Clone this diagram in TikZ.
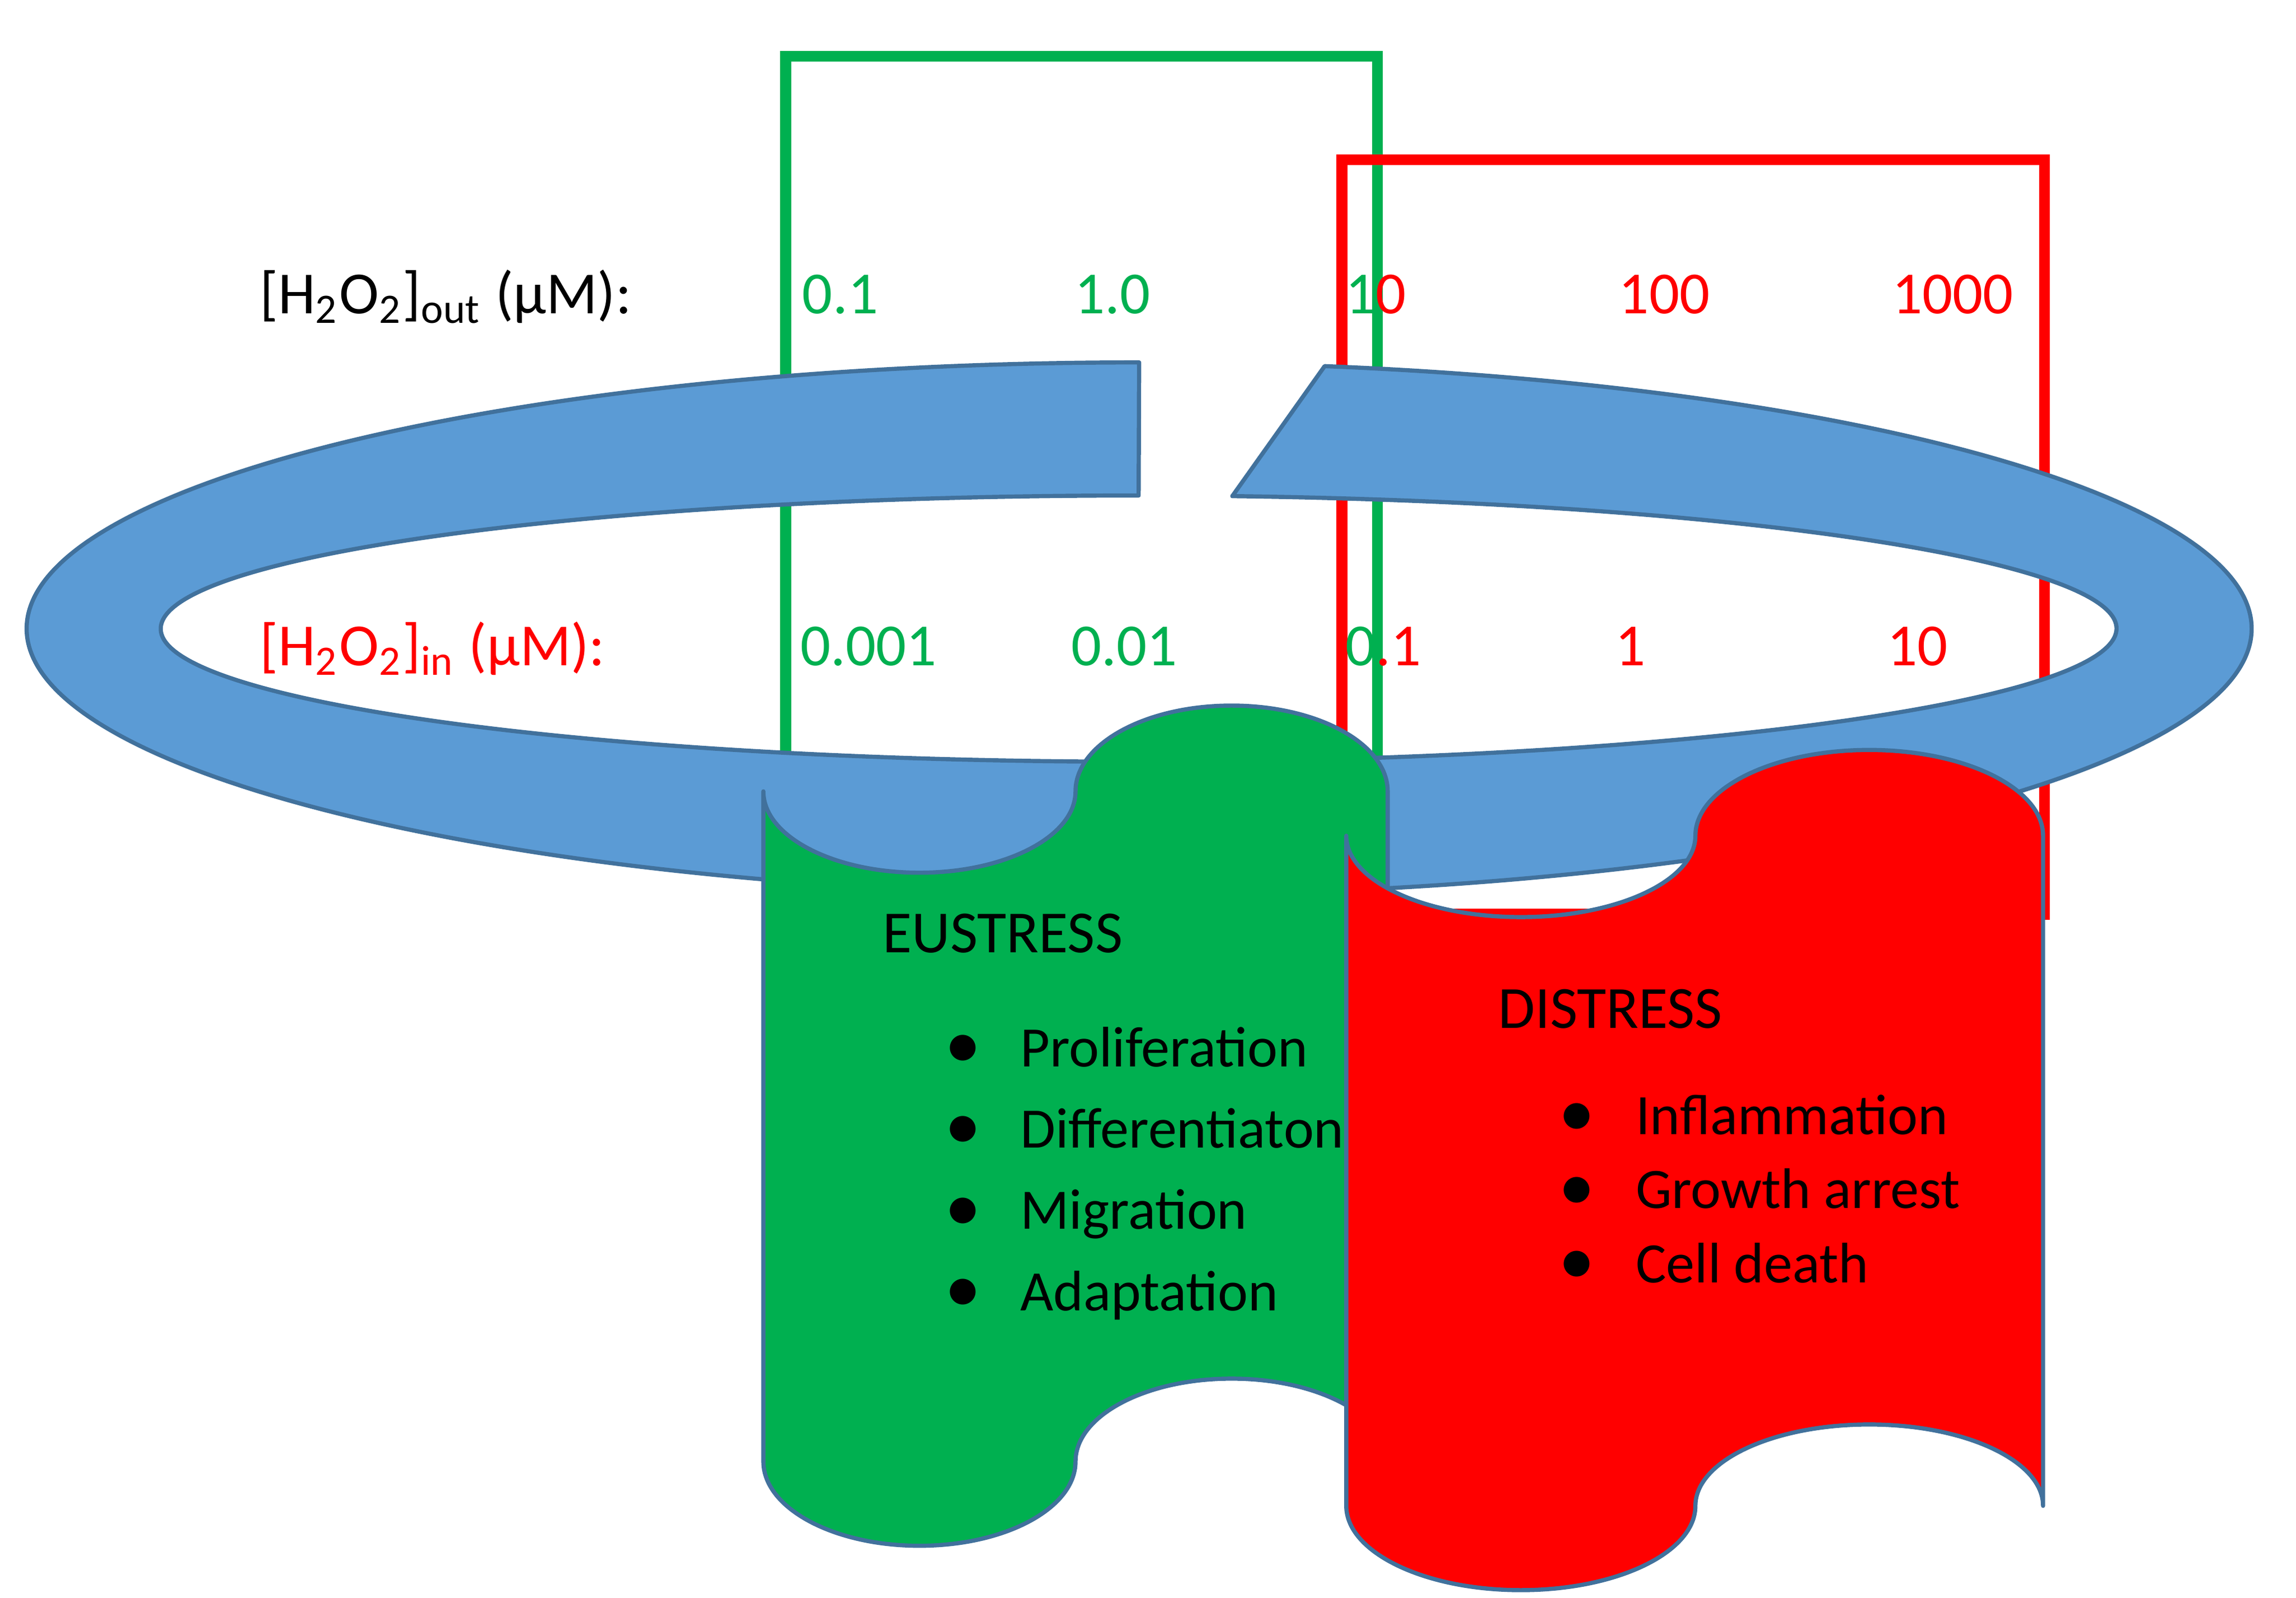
\documentclass[tikz,border=0pt]{standalone}
\usepackage{fontspec}
\setmainfont{Carlito}
\definecolor{gr}{HTML}{00B050}
\definecolor{rd}{HTML}{FF0000}
\definecolor{bl}{HTML}{5B9BD5}
\definecolor{ol}{HTML}{41719C}
\begin{document}
\begin{tikzpicture}[x=0.01cm,y=0.01cm,
  lbl/.style={anchor=base west,inner sep=0,font=\fontsize{11.5}{13}\selectfont},
  num/.style={anchor=base,inner sep=0,font=\fontsize{11.5}{13}\selectfont},
  item/.style={anchor=base west,inner sep=0,font=\fontsize{11}{13}\selectfont},
  bul/.style={anchor=center,inner sep=0,font=\fontsize{14}{14}\selectfont},
  shp/.style={draw=ol,line width=0.8pt,line join=round}]
\useasboundingbox (0,0) rectangle (1552,-1080);
% rectangles
\draw[gr,line width=2.1pt] (531,-600) -- (531,-38) -- (931,-38) -- (931,-600);
\draw[rd,line width=2.1pt] (907,-618) rectangle (1382,-108);
% ring
\path[shp,fill=bl] (770,-245) arc[start angle=90,end angle=440.4,x radius=752,y radius=180]
  -- (833,-335.4) arc[start angle=84.5,end angle=-270,x radius=661,y radius=90] -- cycle;
% texts
\node[lbl] (out) at (175,-212) {[H\textsubscript{2}O\textsubscript{2}]\textsubscript{out} (µM):};
\node[num,text=gr] (o1) at (568,-212) {0.1};
\node[num,text=gr] (o2) at (752,-212) {1.0};
\node[num] (o3) at (930,-212) {\textcolor{gr}{1}\textcolor{rd}{0}};
\node[num,text=rd] (o4) at (1125,-212) {100};
\node[num,text=rd] (o5) at (1320,-212) {1000};
\node[lbl,text=rd] (in) at (175,-450) {[H\textsubscript{2}O\textsubscript{2}]\textsubscript{in} (µM):};
\node[num,text=gr] (i1) at (587,-450) {0.001};
\node[num,text=gr] (i2) at (760,-450) {0.01};
\node[num] (i3) at (935,-450) {\textcolor{gr}{0}\textcolor{rd}{.1}};
\node[num,text=rd] (i4) at (1102,-450) {1};
\node[num,text=rd] (i5) at (1296,-450) {10};
% green scroll
\path[shp,fill=gr] (516,-535) -- (516,-988)
  arc[start angle=180,end angle=360,x radius=105.5,y radius=57]
  arc[start angle=180,end angle=0,x radius=105.5,y radius=56]
  -- (938,-535)
  arc[start angle=0,end angle=180,x radius=105.5,y radius=58]
  arc[start angle=0,end angle=-180,x radius=105.5,y radius=55] -- cycle;
% red scroll
\path[shp,fill=rd] (910,-565) -- (910,-1018)
  arc[start angle=180,end angle=360,x radius=118,y radius=57]
  arc[start angle=180,end angle=0,x radius=117.5,y radius=55]
  -- (1381,-565)
  arc[start angle=0,end angle=180,x radius=117.5,y radius=58]
  arc[start angle=0,end angle=-180,x radius=118,y radius=55] -- cycle;
% eustress
\node[lbl] (eu) at (596,-644) {EUSTRESS};
\foreach \t/\y [count=\i] in {Proliferation/711,Differentiaton/766,Migration/821,Adaptation/876}{
  \node[bul] (eb\i) at (651,-\y) {\textbullet};
  \node[item] (et\i) at (689,-\y-10) {\t};}
% distress
\node[lbl] (di) at (1012,-695) {DISTRESS};
\foreach \t/\y [count=\i] in {Inflammation/757,Growth arrest/807,Cell death/857}{
  \node[bul] (db\i) at (1066,-\y) {\textbullet};
  \node[item] (dt\i) at (1105,-\y-10) {\t};}
\end{tikzpicture}
\end{document}
